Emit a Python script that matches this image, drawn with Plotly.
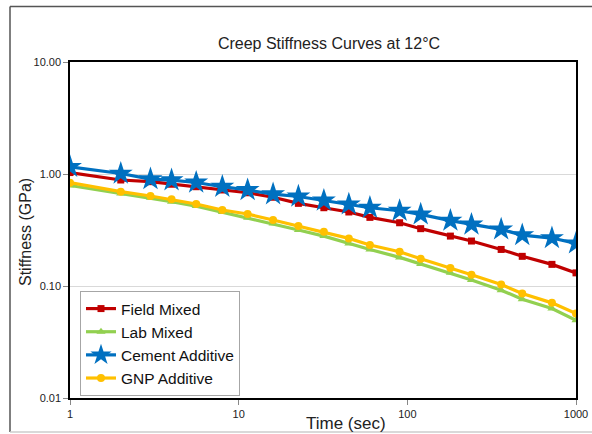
import plotly.graph_objects as go

time_sec = [1, 2, 3, 4, 5.6, 8, 11.3, 16, 22.6, 32, 45, 60, 90, 120, 180, 240, 360, 480, 720, 1000]
field_mixed = [1.03, 0.884, 0.854, 0.81, 0.77, 0.72, 0.68, 0.62, 0.547, 0.50, 0.458, 0.41, 0.367, 0.325,
               0.279, 0.252, 0.212, 0.184, 0.156, 0.131]
lab_mixed = [0.79, 0.671, 0.614, 0.566, 0.517, 0.457, 0.407, 0.362, 0.316, 0.279, 0.24, 0.212, 0.18, 0.157,
             0.131, 0.113, 0.0918, 0.0762, 0.063, 0.0495]
cement_additive = [1.16, 1.01, 0.90, 0.88, 0.84, 0.77, 0.72, 0.66, 0.63, 0.58, 0.535, 0.50, 0.47, 0.436,
                   0.383, 0.354, 0.32, 0.285, 0.268, 0.24]
gnp_additive = [0.837, 0.695, 0.636, 0.594, 0.54, 0.477, 0.439, 0.388, 0.343, 0.305, 0.266, 0.232, 0.202,
                0.175, 0.145, 0.126, 0.103, 0.0857, 0.0707, 0.0568]

x_ticks = [1, 10, 100, 1000]
x_tick_text = ["1", "10", "100", "1000"]
y_ticks = [0.01, 0.1, 1, 10]
y_tick_text = ["0.01", "0.10", "1.00", "10.00"]

FONT = "Arial, Liberation Sans, sans-serif"

series = [
    ("Field Mixed", field_mixed, "#C00000", "square", 7),
    ("Lab Mixed", lab_mixed, "#92D050", "triangle-up", 8),
    ("Cement Additive", cement_additive, "#0070C0", "star", 18),
    ("GNP Additive", gnp_additive, "#FFC000", "circle", 8),
]

fig = go.Figure()
for name, vals, color, sym, size in series:
    fig.add_trace(go.Scatter(
        x=time_sec, y=vals, name=name, mode="lines+markers",
        line=dict(color=color, width=3.2),
        marker=dict(symbol=sym, size=size, color=color, line=dict(width=0)),
    ))

W, H = 592, 434
L, R, T, B = 70, 16, 62, 36
pw, ph = W - L - R, H - T - B


def px_x(p):
    return (p - L) / pw


def px_y(p):
    return (H - B - p) / ph


fig.update_layout(
    width=W, height=H,
    margin=dict(l=L, r=R, t=T, b=B, autoexpand=False),
    paper_bgcolor="white", plot_bgcolor="white",
    font=dict(family=FONT, color="#222222"),
    title=dict(text="Creep Stiffness Curves at 12°C", xref="container", yref="container",
               x=329 / W, y=1 - 43 / H, xanchor="center", yanchor="middle",
               font=dict(size=16, family=FONT, color="#222222")),
    showlegend=True,
    legend=dict(x=px_x(80), y=px_y(291), xanchor="left", yanchor="top",
                bgcolor="white", bordercolor="#A6A6A6", borderwidth=1,
                font=dict(size=15.5, family=FONT, color="#111111"),
                tracegroupgap=0, itemwidth=30),
    xaxis=dict(type="log", range=[0, 3], tickvals=x_ticks, ticktext=x_tick_text,
               showgrid=False, zeroline=False, automargin=False,
               showline=True, linecolor="#000000", linewidth=1.5, mirror=True,
               ticks="outside", ticklen=5, tickcolor="#888888",
               tickfont=dict(size=11, family=FONT, color="#222222")),
    yaxis=dict(type="log", range=[-2, 1], tickvals=y_ticks, ticktext=y_tick_text,
               showgrid=True, gridcolor="#D9D9D9", gridwidth=1, zeroline=False, automargin=False,
               showline=True, linecolor="#000000", linewidth=1.5, mirror=True,
               ticks="outside", ticklen=5, tickcolor="#888888",
               tickfont=dict(size=11, family=FONT, color="#222222")),
    annotations=[
        dict(text="Time (sec)", xref="paper", yref="paper", x=px_x(346), y=px_y(423),
             xanchor="center", yanchor="middle", showarrow=False,
             font=dict(size=17, family=FONT, color="#222222")),
        dict(text="Stiffness (GPa)", xref="paper", yref="paper", x=px_x(25), y=px_y(232),
             xanchor="center", yanchor="middle", showarrow=False, textangle=-90,
             font=dict(size=16, family=FONT, color="#222222")),
    ],
    shapes=[
        dict(type="line", xref="paper", yref="paper", x0=px_x(10), x1=px_x(600),
             y0=px_y(6.5), y1=px_y(6.5), line=dict(color="#555555", width=1.5)),
        dict(type="line", xref="paper", yref="paper", x0=px_x(10), x1=px_x(10),
             y0=px_y(6.5), y1=px_y(432), line=dict(color="#555555", width=1.5)),
        dict(type="line", xref="paper", yref="paper", x0=px_x(10), x1=px_x(600),
             y0=px_y(432), y1=px_y(432), line=dict(color="#CCCCCC", width=1.5)),
    ],
)

fig.write_html("out.html", config={"displayModeBar": False},
               post_script="document.body.style.margin='0';document.body.style.overflow='hidden';")
